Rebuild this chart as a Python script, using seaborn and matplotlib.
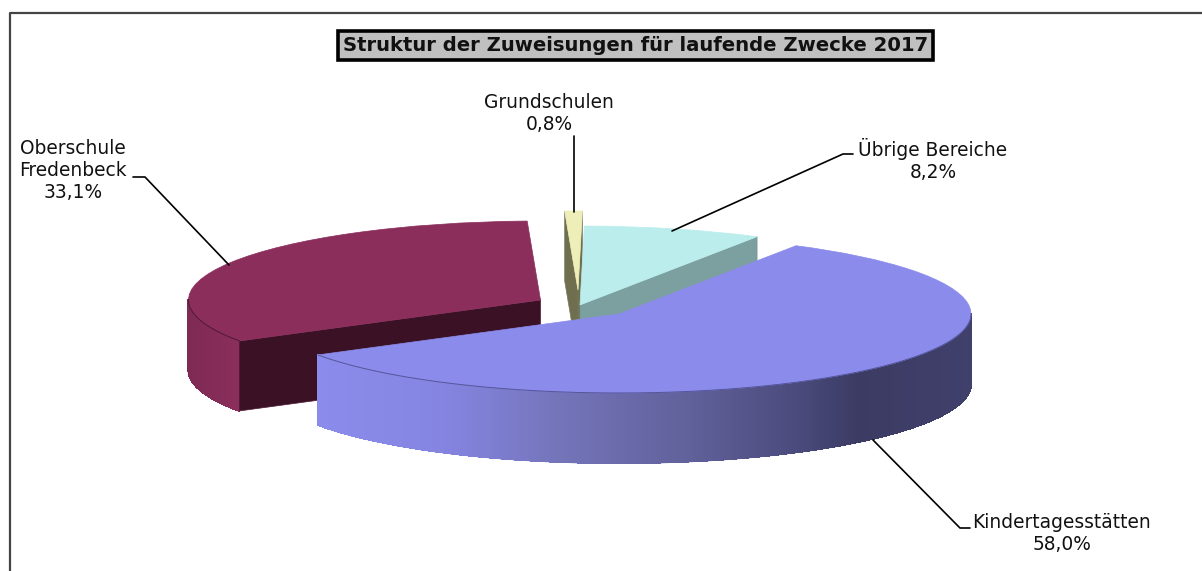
import numpy as np
import seaborn as sns
import matplotlib
matplotlib.use('Agg')
import matplotlib.pyplot as plt
from matplotlib.collections import LineCollection
from matplotlib.colors import to_rgb
from matplotlib.lines import Line2D
from matplotlib.patches import Polygon
from matplotlib.transforms import Affine2D

title = 'Struktur der Zuweisungen für laufende Zwecke 2017'
categories = ['Kindertagesstätten', 'Oberschule\nFredenbeck', 'Grundschulen', 'Übrige Bereiche']
shares = [58.0, 33.1, 0.8, 8.2]
share_labels = ['58,0%', '33,1%', '0,8%', '8,2%']

sns.set_style('white')
plt.rcParams['font.family'] = ['DejaVu Sans']

W, H = 1202, 571
CX, CY = 575, 304     # pie centre in px
RX, RY = 352, 79      # radius in px
DEPTH = 70 / RY
START = 59.8

top_colors = ['#8b8bec', '#8b2e5c', '#eeeeb8', '#bbeded']
edge_colors = ['#55559a', '#4f1a35', '#77775c', '#6f9090']
face_colors = ['#3d3d66', '#3b1225', '#6f6f50', '#7ca0a0']
# wall colour by screen x
wall_stops = [
    [(320, '#8b8bec'), (450, '#8484e0'), (560, '#7474ba'), (700, '#5f5f98'), (800, '#4a4a7c'), (860, '#3b3b63'), (975, '#40406c')],
    [(187, '#7d2a53'), (240, '#8b2e5c')],
    [(560, '#6f6f50'), (590, '#6f6f50')],
    [(580, '#7ca0a0'), (760, '#7ca0a0')],
]
# explosion of each slice, px
shifts = [(44, 10), (-34.5, -4), (3, -14), (5, 1)]
leaders = [
    [(873, 440), (960, 528), (970, 528)],
    [(133, 177), (145, 177), (229, 265)],
    [(573.5, 136), (573.5, 212)],
    [(672, 231), (843, 154), (853, 154)],
]
label_pos = [(1062, 533), (73, 170), (549, 114), (933, 160)]


def wall_color(stops, x):
    xs = [s[0] for s in stops]
    rgb = np.array([to_rgb(s[1]) for s in stops])
    return [np.interp(x, xs, rgb[:, i]) for i in range(3)]


fig = plt.figure(figsize=(W / 100, H / 100), dpi=100)
ax = fig.add_axes([0, 0, 1, 1])
wedges, _ = ax.pie(shares, startangle=START, counterclock=False, colors=top_colors, radius=1)
ax.set_aspect('auto')
ax.set_xlim(-CX / RX, (W - CX) / RX)
ax.set_ylim(-(H - CY) / RY, CY / RY)
ax.axis('off')

# back slices first, the big one goes on top
for z, i in enumerate([1, 2, 3, 0]):
    wedge = wedges[i]
    cx, cy = shifts[i][0] / RX, -shifts[i][1] / RY
    wedge.set_center((cx, cy))
    wedge.set_edgecolor(top_colors[i])
    wedge.set_linewidth(0.5)
    wedge.set_zorder(10 * z + 5)

    # outer wall, only the front half shows
    th = np.radians(np.linspace(wedge.theta1, wedge.theta2, 400))
    th = th[np.sin(th) < 0.01]
    segs, cols = [], []
    for a, b in zip(th[:-1], th[1:]):
        xa, ya = cx + np.cos(a), cy + np.sin(a)
        xb, yb = cx + np.cos(b), cy + np.sin(b)
        col = wall_color(wall_stops[i], CX + RX * (xa + xb) / 2)
        ax.add_patch(Polygon([(xa, ya), (xb, yb), (xb, yb - DEPTH), (xa, ya - DEPTH)],
                             facecolor=col, edgecolor=col, lw=0.8, antialiased=False, zorder=10 * z + 1))
        segs.append([(xa, ya - DEPTH), (xb, yb - DEPTH)])
        cols.append(col)
    if len(th) > 1:
        # smooth the lower edge, then the rim between the top and the wall
        ax.add_collection(LineCollection(segs, colors=cols, lw=1.2, zorder=10 * z + 2))
        ax.plot(cx + np.cos(th), cy + np.sin(th), color=edge_colors[i], lw=0.7, zorder=10 * z + 6)

    # cut faces that point at the viewer
    for ang, normal in [(wedge.theta1, wedge.theta1 - 90), (wedge.theta2, wedge.theta2 + 90)]:
        if np.sin(np.radians(normal)) < 0:
            ex, ey = cx + np.cos(np.radians(ang)), cy + np.sin(np.radians(ang))
            ax.add_patch(Polygon([(cx, cy), (ex, ey), (ex, ey - DEPTH), (cx, cy - DEPTH)],
                                 facecolor=face_colors[i], edgecolor=edge_colors[i], lw=0.5, zorder=10 * z + 3))

# everything below is placed in image px
px = Affine2D().scale(1 / W, -1 / H).translate(0, 1) + fig.transFigure

fig.add_artist(Line2D([9.5, 9.5, W], [H, 12.5, 12.5], transform=px, color='#444444', lw=1.6))

for pts in leaders:
    xs, ys = zip(*pts)
    fig.add_artist(Line2D(xs, ys, transform=px, color='black', lw=1.2))

for cat, lab, (x, y) in zip(categories, share_labels, label_pos):
    fig.text(x, y, cat + '\n' + lab, transform=px, ha='center', va='center',
             fontsize=13.4, color='#111111', linespacing=1.2)

fig.text(635.5, 45.5, title, transform=px, ha='center', va='center', fontsize=14.1, fontweight='bold',
         color='#111111', bbox=dict(boxstyle='square,pad=0.26', facecolor='#c0c0c0', edgecolor='black', lw=2.6))

fig.savefig('out.png', dpi=100)
